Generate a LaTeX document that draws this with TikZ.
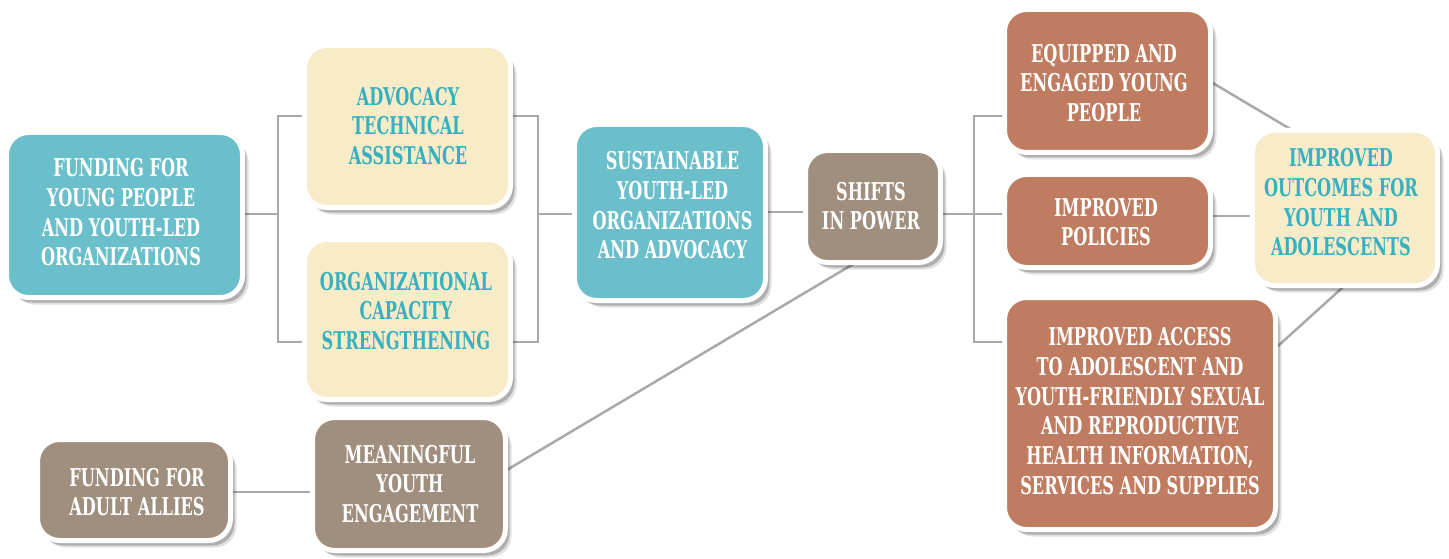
\documentclass[tikz,border=0pt]{standalone}
\usepackage{fontspec}
\newfontfamily\boxfont{DejaVu Serif}[FakeStretch=0.66]
\usetikzlibrary{shadows,calc}
\definecolor{cteal}{HTML}{6ABFCA}
\definecolor{ccream}{HTML}{F7EBC8}
\definecolor{ctaupe}{HTML}{A08F7E}
\definecolor{cterra}{HTML}{BF7C60}
\definecolor{ctealtext}{HTML}{38B0C0}
\definecolor{cgray}{HTML}{A7A9AC}
\begin{document}
\begin{tikzpicture}[x=1pt,y=-1pt,
  conn/.style={draw=cgray, line width=2.5pt},
  box/.style={rounded corners=22pt, fill=#1, draw=white, line width=5pt,
    drop shadow={shadow xshift=6pt, shadow yshift=-7pt, fill=black, opacity=0.12},
    drop shadow={shadow xshift=4pt, shadow yshift=-5pt, fill=black, opacity=0.22},
    inner sep=0pt},
  txt/.style={font=\boxfont\bfseries\fontsize{24.5}{29.7}\selectfont, align=center, text=white, inner sep=0pt},
  ttxt/.style={txt, text=ctealtext},
]
\useasboundingbox (0,0) rectangle (1449,559);

% bracket coordinates
\coordinate (lbm) at (278,214);
\coordinate (lbt) at (278,116);
\coordinate (lbb) at (278,342);
\coordinate (rbm) at (538,214);
\coordinate (rbt) at (538,116);
\coordinate (rbb) at (538,342);
\coordinate (sbm) at (974,214);
\coordinate (sbt) at (974,116);
\coordinate (sbb) at (974,342);
\coordinate (fe) at (1206,79);
\coordinate (fh) at (1302,136);
\coordinate (ie) at (1268,355);
\coordinate (ih) at (1352,279);
\coordinate (ke) at (500,474);
\coordinate (ks) at (860,260);

% connectors (drawn first, boxes cover their ends)
\draw[conn] (230,214) -- (lbm);
\draw[conn] (320,116) -- (lbt) -- (lbb) -- (320,342);
\draw[conn] (495,116) -- (rbt) -- (rbb) -- (495,342);
\draw[conn] (rbm) -- (590,214);
\draw[conn] (750,212) -- (820,212);
\draw[conn] (925,214) -- (sbm);
\draw[conn] (1020,116) -- (sbt) -- (sbb) -- (1020,342);
\draw[conn] (sbm) -- (1020,214);
\draw[conn] (1195,216) -- (1270,216);
\draw[conn] (fe) -- (fh);
\draw[conn] (ie) -- (ih);
\draw[conn] (215,492) -- (330,492);
\draw[conn] (ke) -- (ks);

% boxes
\node[box=cteal, minimum width=236pt, minimum height=165pt] (A) at (124.5,215) {};
\node[box=ccream, minimum width=206pt, minimum height=162pt] (B) at (407.5,126.5) {};
\node[box=ccream, minimum width=206pt, minimum height=160pt] (C) at (407.5,319.5) {};
\node[box=cteal, minimum width=191pt, minimum height=176pt] (D) at (670,212.5) {};
\node[box=ctaupe, minimum width=135pt, minimum height=112pt] (E) at (873,206.5) {};
\node[box=cterra, minimum width=206pt, minimum height=143pt] (F) at (1107.5,81) {};
\node[box=cterra, minimum width=206pt, minimum height=93pt] (G) at (1107.5,221) {};
\node[box=ccream, minimum width=185pt, minimum height=155pt] (H) at (1345,208) {};
\node[box=cterra, minimum width=271pt, minimum height=232pt] (I) at (1140,413.5) {};
\node[box=ctaupe, minimum width=193pt, minimum height=101pt] (J) at (134,490) {};
\node[box=ctaupe, minimum width=193pt, minimum height=133pt] (K) at (409,484) {};

% texts
\node[txt] (At) at (121,212.5) {FUNDING FOR\\YOUNG PEOPLE\\AND YOUTH-LED\\ORGANIZATIONS};
\node[ttxt] (Bt) at (408,126) {ADVOCACY\\TECHNICAL\\ASSISTANCE};
\node[ttxt] (Ct) at (406,311) {ORGANIZATIONAL\\CAPACITY\\STRENGTHENING};
\node[txt] (Dt) at (672.5,205.5) {SUSTAINABLE\\YOUTH-LED\\ORGANIZATIONS\\AND ADVOCACY};
\node[txt] (Et) at (871,206) {SHIFTS\\IN POWER};
\node[txt] (Ft) at (1104,83) {EQUIPPED AND\\ENGAGED YOUNG\\PEOPLE};
\node[txt] (Gt) at (1106,222) {IMPROVED\\POLICIES};
\node[ttxt] (Ht) at (1341,202.5) {IMPROVED\\OUTCOMES FOR\\YOUTH AND\\ADOLESCENTS};
\node[txt] (It) at (1140,411) {IMPROVED ACCESS\\TO ADOLESCENT AND\\YOUTH-FRIENDLY SEXUAL\\AND REPRODUCTIVE\\HEALTH INFORMATION,\\SERVICES AND SUPPLIES};
\node[txt] (Jt) at (137,492) {FUNDING FOR\\ADULT ALLIES};
\node[txt] (Kt) at (410,484) {MEANINGFUL\\YOUTH\\ENGAGEMENT};
\end{tikzpicture}
\end{document}
